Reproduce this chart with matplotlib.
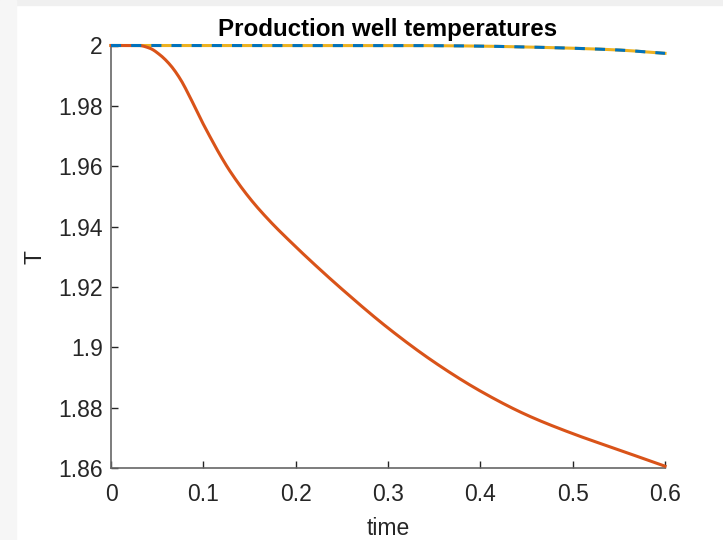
import numpy as np
import matplotlib
matplotlib.use("Agg")
import matplotlib.pyplot as plt
from matplotlib.patches import Rectangle

# --Datos
t_prod = [0.0, 0.03, 0.042, 0.053, 0.064, 0.075, 0.086, 0.0965, 0.107, 0.118, 0.129,
          0.151, 0.173, 0.195, 0.216, 0.25, 0.30, 0.35, 0.40, 0.45, 0.50, 0.55, 0.60]
T_prod = [2.0, 2.0, 1.9991, 1.9969, 1.9936, 1.9889, 1.9826, 1.9760, 1.9699, 1.9638, 1.9583,
          1.9491, 1.9415, 1.9348, 1.9287, 1.9193, 1.9064, 1.8951, 1.8855, 1.8776, 1.8714,
          1.8660, 1.8606]
t_ref = [0.0, 0.1, 0.2, 0.3, 0.35, 0.4, 0.45, 0.5, 0.55, 0.6]
T_ref = [2.0, 2.0, 2.0, 2.0, 1.99995, 1.9998, 1.9995, 1.9991, 1.9985, 1.9974]

xticks = [0, 0.1, 0.2, 0.3, 0.4, 0.5, 0.6]
xticklabels = ['0', '0.1', '0.2', '0.3', '0.4', '0.5', '0.6']
yticks = [1.86, 1.88, 1.9, 1.92, 1.94, 1.96, 1.98, 2]
yticklabels = ['1.86', '1.88', '1.9', '1.92', '1.94', '1.96', '1.98', '2']

blue = '#0072BD'
orange = '#D95319'
yellow = '#EDB120'


# --interpolacion monotona (PCHIP) entre los puntos leidos
def pchip(x, y, xs):
    x = np.asarray(x, float); y = np.asarray(y, float)
    h = np.diff(x)
    delta = np.diff(y) / h
    n = len(x)
    d = np.zeros(n)
    for k in range(1, n - 1):
        if delta[k - 1] * delta[k] > 0:
            w1 = 2 * h[k] + h[k - 1]
            w2 = h[k] + 2 * h[k - 1]
            d[k] = (w1 + w2) / (w1 / delta[k - 1] + w2 / delta[k])
    d[0] = delta[0]
    d[-1] = delta[-1]
    idx = np.clip(np.searchsorted(x, xs) - 1, 0, n - 2)
    s = (xs - x[idx]) / h[idx]
    h00 = 2 * s ** 3 - 3 * s ** 2 + 1
    h10 = s ** 3 - 2 * s ** 2 + s
    h01 = -2 * s ** 3 + 3 * s ** 2
    h11 = s ** 3 - s ** 2
    return (h00 * y[idx] + h10 * h[idx] * d[idx] + h01 * y[idx + 1]
            + h11 * h[idx] * d[idx + 1])


plt.rcParams['font.family'] = ['Liberation Sans', 'DejaVu Sans']

fig = plt.figure(figsize=(7.23, 5.40), dpi=100, facecolor='white')
# --franjas grises del borde
fig.patches.append(Rectangle((0, 1 - 5 / 540), 1, 5 / 540, transform=fig.transFigure,
                             color='#f0f0f0', zorder=0))
fig.patches.append(Rectangle((0, 0), 16 / 723, 1, transform=fig.transFigure,
                             color='#f6f6f6', zorder=0))

ax = fig.add_axes([111 / 723, 72 / 540, 554 / 723, 422.5 / 540])

tt = np.linspace(0, 0.6, 500)
T_ref_s = pchip(t_ref, T_ref, tt)
ax.plot(tt, T_ref_s, color=yellow, lw=2.2, zorder=2, clip_on=False)
ax.plot(tt, pchip(t_prod, T_prod, tt), color=orange, lw=2.2, zorder=3, clip_on=False)
ax.plot(tt, T_ref_s, color=blue, lw=2.2, ls=(0, (3.3, 3.3)), zorder=4, clip_on=False)

ax.set_xlim(0, 0.6)
ax.set_ylim(1.86, 2)
ax.set_xticks(xticks)
ax.set_xticklabels(xticklabels)
ax.set_yticks(yticks)
ax.set_yticklabels(yticklabels)
for s in ['top', 'right']:
    ax.spines[s].set_visible(False)
for s in ['left', 'bottom']:
    ax.spines[s].set_color('#666666')
    ax.spines[s].set_linewidth(1.2)
ax.tick_params(direction='in', length=5, width=1, color='#262626', labelsize=16.5,
               labelcolor='#262626')
ax.tick_params(axis='x', pad=11)
ax.tick_params(axis='y', pad=6)
ax.set_xlabel('time', fontsize=16.5, color='#262626', labelpad=8)
ax.set_ylabel('T', fontsize=16.5, color='#262626', labelpad=8)
ax.set_title('Production well temperatures', fontsize=17.4, fontweight='bold', pad=7)

fig.savefig('out.png', dpi=100, facecolor=fig.get_facecolor())
